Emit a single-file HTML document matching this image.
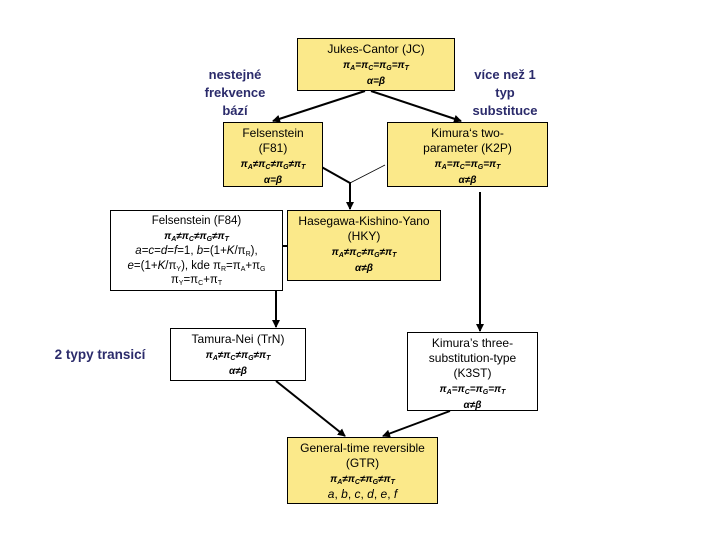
<!DOCTYPE html>
<html><head><meta charset="utf-8"><style>
body{margin:0;width:720px;height:540px;background:#fff;position:relative;overflow:hidden;font-family:"Liberation Sans",Arial,sans-serif}
.b{position:absolute;border:1px solid #000;box-sizing:border-box;text-align:center;font-size:12px;line-height:15px;color:#000;padding-top:3px}
.y{background:#fbe98a}
.w{background:#fff}
.l{position:absolute;color:#2b2b6b;font-weight:bold;font-size:13px;line-height:18px;text-align:center}
.m{font-size:10px;font-style:italic;font-weight:bold}
sub{font-size:7px;vertical-align:-2px;line-height:0}
</style></head><body>
<svg width="720" height="540" style="position:absolute;left:0;top:0">
<defs><marker id="a" markerWidth="8" markerHeight="8" refX="7" refY="4" orient="auto" markerUnits="userSpaceOnUse"><path d="M0,0 L8,4 L0,8z" fill="#000"/></marker></defs>
<g stroke="#000" stroke-width="2" fill="none">
<line x1="365" y1="91" x2="273" y2="121" marker-end="url(#a)"/>
<line x1="371" y1="91" x2="461" y2="121" marker-end="url(#a)"/>
<line x1="318" y1="165" x2="350" y2="183"/>
<line x1="385" y1="165" x2="350" y2="183" stroke-width="0.8"/>
<line x1="350" y1="182" x2="350" y2="209" marker-end="url(#a)"/>
<line x1="267" y1="246" x2="287" y2="246"/>
<line x1="276" y1="246" x2="276" y2="327" marker-end="url(#a)"/>
<line x1="480" y1="192" x2="480" y2="331" marker-end="url(#a)"/>
<line x1="276" y1="381" x2="345" y2="436" marker-end="url(#a)"/>
<line x1="450" y1="411" x2="383" y2="436" marker-end="url(#a)"/>
</g></svg>
<div class="b y" style="left:297px;top:38px;width:158px;height:53px">Jukes-Cantor (JC)<br><span class="m">π<sub>A</sub>=π<sub>C</sub>=π<sub>G</sub>=π<sub>T</sub></span><br><span class="m">α=β</span></div>
<div class="b y" style="left:223px;top:122px;width:100px;height:65px">Felsenstein<br>(F81)<br><span class="m">π<sub>A</sub>≠π<sub>C</sub>≠π<sub>G</sub>≠π<sub>T</sub></span><br><span class="m">α=β</span></div>
<div class="b y" style="left:387px;top:122px;width:161px;height:65px">Kimura‘s two-<br>parameter (K2P)<br><span class="m">π<sub>A</sub>=π<sub>C</sub>=π<sub>G</sub>=π<sub>T</sub></span><br><span class="m">α≠β</span></div>
<div class="b w" style="left:110px;top:210px;width:173px;height:81px;font-size:11.5px;line-height:14.5px">Felsenstein (F84)<br><span class="m">π<sub>A</sub>≠π<sub>C</sub>≠π<sub>G</sub>≠π<sub>T</sub></span><br><i>a</i>=<i>c</i>=<i>d</i>=<i>f</i>=1, <i>b</i>=(1+<i>K</i>/π<sub>R</sub>),<br><i>e</i>=(1+<i>K</i>/π<sub>Y</sub>), kde π<sub>R</sub>=π<sub>A</sub>+π<sub>G</sub><br>π<sub>Y</sub>=π<sub>C</sub>+π<sub>T</sub></div>
<div class="b y" style="left:287px;top:210px;width:154px;height:71px">Hasegawa-Kishino-Yano<br>(HKY)<br><span class="m">π<sub>A</sub>≠π<sub>C</sub>≠π<sub>G</sub>≠π<sub>T</sub></span><br><span class="m">α≠β</span></div>
<div class="b w" style="left:170px;top:328px;width:136px;height:53px">Tamura-Nei (TrN)<br><span class="m">π<sub>A</sub>≠π<sub>C</sub>≠π<sub>G</sub>≠π<sub>T</sub></span><br><span class="m">α≠β</span></div>
<div class="b w" style="left:407px;top:332px;width:131px;height:79px">Kimura’s three-<br>substitution-type<br>(K3ST)<br><span class="m">π<sub>A</sub>=π<sub>C</sub>=π<sub>G</sub>=π<sub>T</sub></span><br><span class="m">α≠β</span></div>
<div class="b y" style="left:287px;top:437px;width:151px;height:67px">General-time reversible<br>(GTR)<br><span class="m">π<sub>A</sub>≠π<sub>C</sub>≠π<sub>G</sub>≠π<sub>T</sub></span><br><i>a</i>, <i>b</i>, <i>c</i>, <i>d</i>, <i>e</i>, <i>f</i></div>
<div class="l" style="left:190px;top:66px;width:90px">nestejné<br>frekvence<br>bází</div>
<div class="l" style="left:460px;top:66px;width:90px">více než 1<br>typ<br>substituce</div>
<div class="l" style="left:45px;top:346px;width:110px;font-size:13.5px">2 typy transicí</div>
</body></html>
